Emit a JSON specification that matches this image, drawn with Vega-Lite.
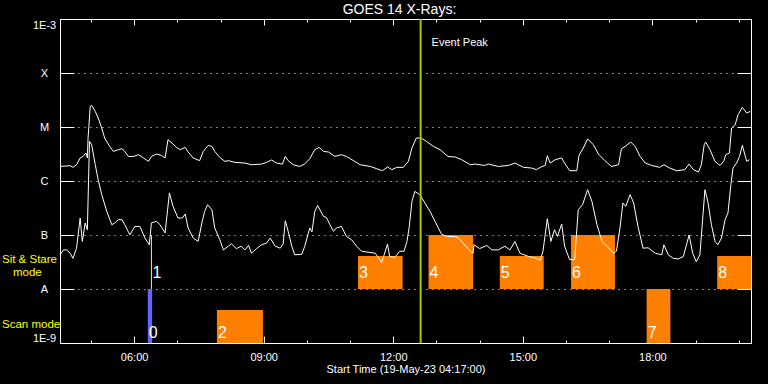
{
  "$schema": "https://vega.github.io/schema/vega-lite/v6.json",
  "width": 691,
  "height": 324,
  "autosize": "none",
  "padding": {"left": 60, "top": 19, "right": 17, "bottom": 41},
  "background": "black",
  "config": {"view": {"stroke": "white", "strokeWidth": 1}, "font": "Liberation Sans"},
  "datasets": {
    "modes": [
      {"id": "0", "mode": "scan", "start": "2023-05-19T06:19", "end": "2023-05-19T06:25", "lo": 1e-9, "hi": 1e-8},
      {"id": "1", "mode": "sit", "start": "2023-05-19T06:24", "end": "2023-05-19T06:24", "lo": 1e-8, "hi": 1e-7},
      {"id": "2", "mode": "scan", "start": "2023-05-19T07:55", "end": "2023-05-19T08:59", "lo": 1e-9, "hi": 4.1e-9},
      {"id": "3", "mode": "sit", "start": "2023-05-19T11:11", "end": "2023-05-19T12:13", "lo": 1e-8, "hi": 4.1e-8},
      {"id": "4", "mode": "sit", "start": "2023-05-19T12:49", "end": "2023-05-19T13:51", "lo": 1e-8, "hi": 1e-7},
      {"id": "5", "mode": "sit", "start": "2023-05-19T14:28", "end": "2023-05-19T15:29", "lo": 1e-8, "hi": 4.1e-8},
      {"id": "6", "mode": "sit", "start": "2023-05-19T16:07", "end": "2023-05-19T17:08", "lo": 1e-8, "hi": 1e-7},
      {"id": "7", "mode": "scan", "start": "2023-05-19T17:52", "end": "2023-05-19T18:25", "lo": 1e-9, "hi": 1e-8},
      {"id": "8", "mode": "sit", "start": "2023-05-19T19:30", "end": "2023-05-19T20:17", "lo": 1e-8, "hi": 4.1e-8}
    ],
    "peak": [{"time": "2023-05-19T12:38", "label": "Event Peak"}],
    "xrs": [
      {"time": "2023-05-19T04:17", "band": "long", "flux": 1.86e-6},
      {"time": "2023-05-19T04:31", "band": "long", "flux": 1.92e-6},
      {"time": "2023-05-19T04:35", "band": "long", "flux": 1.79e-6},
      {"time": "2023-05-19T04:40", "band": "long", "flux": 2.0e-6},
      {"time": "2023-05-19T04:45", "band": "long", "flux": 2.67e-6},
      {"time": "2023-05-19T04:49", "band": "long", "flux": 2.85e-6},
      {"time": "2023-05-19T04:53", "band": "long", "flux": 3.3e-6},
      {"time": "2023-05-19T04:55", "band": "long", "flux": 2.67e-6},
      {"time": "2023-05-19T04:56", "band": "long", "flux": 6.25e-6},
      {"time": "2023-05-19T04:59", "band": "long", "flux": 2.41e-5},
      {"time": "2023-05-19T05:01", "band": "long", "flux": 2.51e-5},
      {"time": "2023-05-19T05:06", "band": "long", "flux": 1.94e-5},
      {"time": "2023-05-19T05:10", "band": "long", "flux": 1.47e-5},
      {"time": "2023-05-19T05:15", "band": "long", "flux": 9.6e-6},
      {"time": "2023-05-19T05:19", "band": "long", "flux": 6.25e-6},
      {"time": "2023-05-19T05:26", "band": "long", "flux": 4.37e-6},
      {"time": "2023-05-19T05:31", "band": "long", "flux": 3.53e-6},
      {"time": "2023-05-19T05:38", "band": "long", "flux": 3.8e-6},
      {"time": "2023-05-19T05:43", "band": "long", "flux": 3.96e-6},
      {"time": "2023-05-19T05:47", "band": "long", "flux": 3.53e-6},
      {"time": "2023-05-19T05:52", "band": "long", "flux": 2.85e-6},
      {"time": "2023-05-19T05:59", "band": "long", "flux": 2.85e-6},
      {"time": "2023-05-19T06:06", "band": "long", "flux": 3.07e-6},
      {"time": "2023-05-19T06:13", "band": "long", "flux": 2.67e-6},
      {"time": "2023-05-19T06:20", "band": "long", "flux": 2.31e-6},
      {"time": "2023-05-19T06:24", "band": "long", "flux": 2.85e-6},
      {"time": "2023-05-19T06:31", "band": "long", "flux": 3.16e-6},
      {"time": "2023-05-19T06:38", "band": "long", "flux": 2.98e-6},
      {"time": "2023-05-19T06:43", "band": "long", "flux": 2.67e-6},
      {"time": "2023-05-19T06:47", "band": "long", "flux": 5.82e-6},
      {"time": "2023-05-19T06:54", "band": "long", "flux": 4.84e-6},
      {"time": "2023-05-19T06:59", "band": "long", "flux": 4.19e-6},
      {"time": "2023-05-19T07:04", "band": "long", "flux": 3.8e-6},
      {"time": "2023-05-19T07:11", "band": "long", "flux": 4.19e-6},
      {"time": "2023-05-19T07:15", "band": "long", "flux": 3.44e-6},
      {"time": "2023-05-19T07:22", "band": "long", "flux": 2.67e-6},
      {"time": "2023-05-19T07:31", "band": "long", "flux": 2.38e-6},
      {"time": "2023-05-19T07:36", "band": "long", "flux": 3.53e-6},
      {"time": "2023-05-19T07:43", "band": "long", "flux": 4.56e-6},
      {"time": "2023-05-19T07:48", "band": "long", "flux": 4.37e-6},
      {"time": "2023-05-19T07:52", "band": "long", "flux": 3.53e-6},
      {"time": "2023-05-19T07:59", "band": "long", "flux": 2.74e-6},
      {"time": "2023-05-19T08:06", "band": "long", "flux": 2.31e-6},
      {"time": "2023-05-19T08:11", "band": "long", "flux": 2.38e-6},
      {"time": "2023-05-19T08:20", "band": "long", "flux": 2.21e-6},
      {"time": "2023-05-19T08:34", "band": "long", "flux": 2.15e-6},
      {"time": "2023-05-19T08:43", "band": "long", "flux": 2.0e-6},
      {"time": "2023-05-19T08:57", "band": "long", "flux": 2.06e-6},
      {"time": "2023-05-19T09:04", "band": "long", "flux": 2.21e-6},
      {"time": "2023-05-19T09:11", "band": "long", "flux": 2.45e-6},
      {"time": "2023-05-19T09:18", "band": "long", "flux": 2.15e-6},
      {"time": "2023-05-19T09:26", "band": "long", "flux": 2.06e-6},
      {"time": "2023-05-19T09:30", "band": "long", "flux": 2.85e-6},
      {"time": "2023-05-19T09:34", "band": "long", "flux": 2.38e-6},
      {"time": "2023-05-19T09:41", "band": "long", "flux": 2.0e-6},
      {"time": "2023-05-19T09:50", "band": "long", "flux": 1.86e-6},
      {"time": "2023-05-19T09:57", "band": "long", "flux": 2.06e-6},
      {"time": "2023-05-19T10:04", "band": "long", "flux": 2.59e-6},
      {"time": "2023-05-19T10:11", "band": "long", "flux": 3.8e-6},
      {"time": "2023-05-19T10:17", "band": "long", "flux": 4.19e-6},
      {"time": "2023-05-19T10:23", "band": "long", "flux": 3.53e-6},
      {"time": "2023-05-19T10:30", "band": "long", "flux": 3.44e-6},
      {"time": "2023-05-19T10:39", "band": "long", "flux": 2.85e-6},
      {"time": "2023-05-19T10:48", "band": "long", "flux": 3.07e-6},
      {"time": "2023-05-19T10:55", "band": "long", "flux": 2.85e-6},
      {"time": "2023-05-19T11:04", "band": "long", "flux": 2.41e-6},
      {"time": "2023-05-19T11:14", "band": "long", "flux": 2.0e-6},
      {"time": "2023-05-19T11:28", "band": "long", "flux": 1.86e-6},
      {"time": "2023-05-19T11:37", "band": "long", "flux": 1.69e-6},
      {"time": "2023-05-19T11:45", "band": "long", "flux": 1.55e-6},
      {"time": "2023-05-19T11:52", "band": "long", "flux": 1.82e-6},
      {"time": "2023-05-19T11:58", "band": "long", "flux": 1.62e-6},
      {"time": "2023-05-19T12:05", "band": "long", "flux": 1.79e-6},
      {"time": "2023-05-19T12:14", "band": "long", "flux": 1.79e-6},
      {"time": "2023-05-19T12:21", "band": "long", "flux": 2.31e-6},
      {"time": "2023-05-19T12:26", "band": "long", "flux": 4.08e-6},
      {"time": "2023-05-19T12:32", "band": "long", "flux": 6.25e-6},
      {"time": "2023-05-19T12:39", "band": "long", "flux": 6.25e-6},
      {"time": "2023-05-19T12:46", "band": "long", "flux": 5.41e-6},
      {"time": "2023-05-19T12:56", "band": "long", "flux": 4.37e-6},
      {"time": "2023-05-19T13:05", "band": "long", "flux": 3.8e-6},
      {"time": "2023-05-19T13:16", "band": "long", "flux": 2.85e-6},
      {"time": "2023-05-19T13:26", "band": "long", "flux": 2.78e-6},
      {"time": "2023-05-19T13:35", "band": "long", "flux": 2.48e-6},
      {"time": "2023-05-19T13:47", "band": "long", "flux": 2.0e-6},
      {"time": "2023-05-19T13:54", "band": "long", "flux": 2.06e-6},
      {"time": "2023-05-19T14:07", "band": "long", "flux": 1.94e-6},
      {"time": "2023-05-19T14:12", "band": "long", "flux": 2.06e-6},
      {"time": "2023-05-19T14:26", "band": "long", "flux": 1.86e-6},
      {"time": "2023-05-19T14:40", "band": "long", "flux": 1.94e-6},
      {"time": "2023-05-19T14:49", "band": "long", "flux": 2.15e-6},
      {"time": "2023-05-19T15:01", "band": "long", "flux": 1.79e-6},
      {"time": "2023-05-19T15:12", "band": "long", "flux": 1.74e-6},
      {"time": "2023-05-19T15:19", "band": "long", "flux": 1.62e-6},
      {"time": "2023-05-19T15:24", "band": "long", "flux": 1.79e-6},
      {"time": "2023-05-19T15:31", "band": "long", "flux": 1.94e-6},
      {"time": "2023-05-19T15:34", "band": "long", "flux": 2.94e-6},
      {"time": "2023-05-19T15:38", "band": "long", "flux": 2.15e-6},
      {"time": "2023-05-19T15:45", "band": "long", "flux": 2.48e-6},
      {"time": "2023-05-19T15:54", "band": "long", "flux": 2.67e-6},
      {"time": "2023-05-19T15:58", "band": "long", "flux": 2.15e-6},
      {"time": "2023-05-19T16:05", "band": "long", "flux": 1.55e-6},
      {"time": "2023-05-19T16:15", "band": "long", "flux": 1.55e-6},
      {"time": "2023-05-19T16:18", "band": "long", "flux": 2.98e-6},
      {"time": "2023-05-19T16:24", "band": "long", "flux": 4.08e-6},
      {"time": "2023-05-19T16:30", "band": "long", "flux": 6.0e-6},
      {"time": "2023-05-19T16:38", "band": "long", "flux": 4.7e-6},
      {"time": "2023-05-19T16:45", "band": "long", "flux": 3.16e-6},
      {"time": "2023-05-19T16:54", "band": "long", "flux": 2.38e-6},
      {"time": "2023-05-19T17:03", "band": "long", "flux": 1.86e-6},
      {"time": "2023-05-19T17:13", "band": "long", "flux": 2.0e-6},
      {"time": "2023-05-19T17:17", "band": "long", "flux": 3.96e-6},
      {"time": "2023-05-19T17:22", "band": "long", "flux": 4.37e-6},
      {"time": "2023-05-19T17:30", "band": "long", "flux": 5.27e-6},
      {"time": "2023-05-19T17:36", "band": "long", "flux": 4.37e-6},
      {"time": "2023-05-19T17:43", "band": "long", "flux": 2.85e-6},
      {"time": "2023-05-19T17:50", "band": "long", "flux": 2.15e-6},
      {"time": "2023-05-19T17:59", "band": "long", "flux": 1.94e-6},
      {"time": "2023-05-19T18:10", "band": "long", "flux": 1.79e-6},
      {"time": "2023-05-19T18:16", "band": "long", "flux": 2.0e-6},
      {"time": "2023-05-19T18:24", "band": "long", "flux": 1.74e-6},
      {"time": "2023-05-19T18:34", "band": "long", "flux": 1.55e-6},
      {"time": "2023-05-19T18:45", "band": "long", "flux": 1.62e-6},
      {"time": "2023-05-19T18:51", "band": "long", "flux": 2.06e-6},
      {"time": "2023-05-19T18:57", "band": "long", "flux": 1.62e-6},
      {"time": "2023-05-19T19:04", "band": "long", "flux": 1.47e-6},
      {"time": "2023-05-19T19:08", "band": "long", "flux": 2.0e-6},
      {"time": "2023-05-19T19:12", "band": "long", "flux": 4.7e-6},
      {"time": "2023-05-19T19:14", "band": "long", "flux": 5.27e-6},
      {"time": "2023-05-19T19:20", "band": "long", "flux": 3.8e-6},
      {"time": "2023-05-19T19:27", "band": "long", "flux": 2.31e-6},
      {"time": "2023-05-19T19:34", "band": "long", "flux": 1.94e-6},
      {"time": "2023-05-19T19:39", "band": "long", "flux": 2.31e-6},
      {"time": "2023-05-19T19:42", "band": "long", "flux": 3.07e-6},
      {"time": "2023-05-19T19:47", "band": "long", "flux": 3.3e-6},
      {"time": "2023-05-19T19:50", "band": "long", "flux": 9.6e-6},
      {"time": "2023-05-19T19:55", "band": "long", "flux": 1.1e-5},
      {"time": "2023-05-19T19:59", "band": "long", "flux": 1.69e-5},
      {"time": "2023-05-19T20:05", "band": "long", "flux": 2.31e-5},
      {"time": "2023-05-19T20:11", "band": "long", "flux": 1.82e-5},
      {"time": "2023-05-19T20:16", "band": "long", "flux": 1.94e-5},
      {"time": "2023-05-19T04:17", "band": "short", "flux": 4.3e-8},
      {"time": "2023-05-19T04:22", "band": "short", "flux": 5.3e-8},
      {"time": "2023-05-19T04:26", "band": "short", "flux": 5.3e-8},
      {"time": "2023-05-19T04:31", "band": "short", "flux": 4.6e-8},
      {"time": "2023-05-19T04:35", "band": "short", "flux": 3.7e-8},
      {"time": "2023-05-19T04:40", "band": "short", "flux": 5.7e-8},
      {"time": "2023-05-19T04:45", "band": "short", "flux": 2.06e-7},
      {"time": "2023-05-19T04:48", "band": "short", "flux": 7.6e-8},
      {"time": "2023-05-19T04:52", "band": "short", "flux": 1.67e-7},
      {"time": "2023-05-19T04:55", "band": "short", "flux": 1.25e-7},
      {"time": "2023-05-19T04:58", "band": "short", "flux": 5.41e-6},
      {"time": "2023-05-19T05:01", "band": "short", "flux": 4.7e-6},
      {"time": "2023-05-19T05:06", "band": "short", "flux": 2.0e-6},
      {"time": "2023-05-19T05:10", "band": "short", "flux": 1.06e-6},
      {"time": "2023-05-19T05:15", "band": "short", "flux": 5.58e-7},
      {"time": "2023-05-19T05:22", "band": "short", "flux": 2.74e-7},
      {"time": "2023-05-19T05:29", "band": "short", "flux": 1.55e-7},
      {"time": "2023-05-19T05:33", "band": "short", "flux": 1.67e-7},
      {"time": "2023-05-19T05:38", "band": "short", "flux": 1.92e-7},
      {"time": "2023-05-19T05:43", "band": "short", "flux": 1.92e-7},
      {"time": "2023-05-19T05:47", "band": "short", "flux": 1.55e-7},
      {"time": "2023-05-19T05:54", "band": "short", "flux": 1.01e-7},
      {"time": "2023-05-19T06:01", "band": "short", "flux": 1.44e-7},
      {"time": "2023-05-19T06:08", "band": "short", "flux": 1.44e-7},
      {"time": "2023-05-19T06:15", "band": "short", "flux": 8.8e-8},
      {"time": "2023-05-19T06:21", "band": "short", "flux": 6.6e-8},
      {"time": "2023-05-19T06:24", "band": "short", "flux": 1.67e-7},
      {"time": "2023-05-19T06:31", "band": "short", "flux": 1.79e-7},
      {"time": "2023-05-19T06:36", "band": "short", "flux": 1.55e-7},
      {"time": "2023-05-19T06:43", "band": "short", "flux": 1.09e-7},
      {"time": "2023-05-19T06:49", "band": "short", "flux": 6.0e-7},
      {"time": "2023-05-19T06:54", "band": "short", "flux": 3.39e-7},
      {"time": "2023-05-19T07:01", "band": "short", "flux": 2.06e-7},
      {"time": "2023-05-19T07:07", "band": "short", "flux": 2.06e-7},
      {"time": "2023-05-19T07:11", "band": "short", "flux": 2.45e-7},
      {"time": "2023-05-19T07:15", "band": "short", "flux": 1.35e-7},
      {"time": "2023-05-19T07:22", "band": "short", "flux": 8.8e-8},
      {"time": "2023-05-19T07:29", "band": "short", "flux": 7.6e-8},
      {"time": "2023-05-19T07:34", "band": "short", "flux": 1.67e-7},
      {"time": "2023-05-19T07:38", "band": "short", "flux": 2.74e-7},
      {"time": "2023-05-19T07:42", "band": "short", "flux": 3.64e-7},
      {"time": "2023-05-19T07:48", "band": "short", "flux": 2.94e-7},
      {"time": "2023-05-19T07:52", "band": "short", "flux": 1.35e-7},
      {"time": "2023-05-19T07:59", "band": "short", "flux": 8.2e-8},
      {"time": "2023-05-19T08:04", "band": "short", "flux": 5.3e-8},
      {"time": "2023-05-19T08:11", "band": "short", "flux": 6.2e-8},
      {"time": "2023-05-19T08:15", "band": "short", "flux": 6.9e-8},
      {"time": "2023-05-19T08:22", "band": "short", "flux": 5.6e-8},
      {"time": "2023-05-19T08:29", "band": "short", "flux": 6.2e-8},
      {"time": "2023-05-19T08:34", "band": "short", "flux": 5.3e-8},
      {"time": "2023-05-19T08:39", "band": "short", "flux": 6.4e-8},
      {"time": "2023-05-19T08:43", "band": "short", "flux": 4.6e-8},
      {"time": "2023-05-19T08:50", "band": "short", "flux": 5.6e-8},
      {"time": "2023-05-19T08:57", "band": "short", "flux": 6.6e-8},
      {"time": "2023-05-19T09:04", "band": "short", "flux": 7.1e-8},
      {"time": "2023-05-19T09:09", "band": "short", "flux": 8.8e-8},
      {"time": "2023-05-19T09:16", "band": "short", "flux": 6.2e-8},
      {"time": "2023-05-19T09:23", "band": "short", "flux": 5.7e-8},
      {"time": "2023-05-19T09:27", "band": "short", "flux": 6.8e-8},
      {"time": "2023-05-19T09:30", "band": "short", "flux": 1.84e-7},
      {"time": "2023-05-19T09:34", "band": "short", "flux": 1.17e-7},
      {"time": "2023-05-19T09:39", "band": "short", "flux": 6.2e-8},
      {"time": "2023-05-19T09:43", "band": "short", "flux": 4.3e-8},
      {"time": "2023-05-19T09:53", "band": "short", "flux": 4.4e-8},
      {"time": "2023-05-19T09:57", "band": "short", "flux": 6.2e-8},
      {"time": "2023-05-19T10:04", "band": "short", "flux": 1.35e-7},
      {"time": "2023-05-19T10:07", "band": "short", "flux": 1.14e-7},
      {"time": "2023-05-19T10:11", "band": "short", "flux": 2.74e-7},
      {"time": "2023-05-19T10:15", "band": "short", "flux": 3.53e-7},
      {"time": "2023-05-19T10:23", "band": "short", "flux": 2.21e-7},
      {"time": "2023-05-19T10:27", "band": "short", "flux": 2.12e-7},
      {"time": "2023-05-19T10:32", "band": "short", "flux": 1.55e-7},
      {"time": "2023-05-19T10:37", "band": "short", "flux": 1.17e-7},
      {"time": "2023-05-19T10:41", "band": "short", "flux": 1.35e-7},
      {"time": "2023-05-19T10:48", "band": "short", "flux": 1.44e-7},
      {"time": "2023-05-19T10:55", "band": "short", "flux": 9.4e-8},
      {"time": "2023-05-19T11:02", "band": "short", "flux": 8.2e-8},
      {"time": "2023-05-19T11:09", "band": "short", "flux": 6.2e-8},
      {"time": "2023-05-19T11:16", "band": "short", "flux": 5.0e-8},
      {"time": "2023-05-19T11:25", "band": "short", "flux": 4.8e-8},
      {"time": "2023-05-19T11:35", "band": "short", "flux": 4.6e-8},
      {"time": "2023-05-19T11:44", "band": "short", "flux": 3.1e-8},
      {"time": "2023-05-19T11:52", "band": "short", "flux": 6.8e-8},
      {"time": "2023-05-19T11:55", "band": "short", "flux": 4.0e-8},
      {"time": "2023-05-19T12:02", "band": "short", "flux": 3.85e-8},
      {"time": "2023-05-19T12:09", "band": "short", "flux": 5.0e-8},
      {"time": "2023-05-19T12:15", "band": "short", "flux": 5.0e-8},
      {"time": "2023-05-19T12:19", "band": "short", "flux": 7.6e-8},
      {"time": "2023-05-19T12:22", "band": "short", "flux": 1.35e-7},
      {"time": "2023-05-19T12:26", "band": "short", "flux": 4.19e-7},
      {"time": "2023-05-19T12:30", "band": "short", "flux": 6.42e-7},
      {"time": "2023-05-19T12:37", "band": "short", "flux": 5.58e-7},
      {"time": "2023-05-19T12:44", "band": "short", "flux": 3.91e-7},
      {"time": "2023-05-19T12:51", "band": "short", "flux": 2.74e-7},
      {"time": "2023-05-19T12:58", "band": "short", "flux": 1.79e-7},
      {"time": "2023-05-19T13:07", "band": "short", "flux": 1.04e-7},
      {"time": "2023-05-19T13:14", "band": "short", "flux": 9.4e-8},
      {"time": "2023-05-19T13:23", "band": "short", "flux": 9.4e-8},
      {"time": "2023-05-19T13:30", "band": "short", "flux": 9.0e-8},
      {"time": "2023-05-19T13:37", "band": "short", "flux": 7.1e-8},
      {"time": "2023-05-19T13:47", "band": "short", "flux": 5.0e-8},
      {"time": "2023-05-19T13:51", "band": "short", "flux": 4.6e-8},
      {"time": "2023-05-19T13:52", "band": "short", "flux": 6.6e-8},
      {"time": "2023-05-19T14:00", "band": "short", "flux": 5.6e-8},
      {"time": "2023-05-19T14:10", "band": "short", "flux": 6.4e-8},
      {"time": "2023-05-19T14:17", "band": "short", "flux": 5.3e-8},
      {"time": "2023-05-19T14:26", "band": "short", "flux": 5.3e-8},
      {"time": "2023-05-19T14:35", "band": "short", "flux": 6.2e-8},
      {"time": "2023-05-19T14:42", "band": "short", "flux": 5.3e-8},
      {"time": "2023-05-19T14:49", "band": "short", "flux": 7.6e-8},
      {"time": "2023-05-19T14:56", "band": "short", "flux": 4.6e-8},
      {"time": "2023-05-19T15:08", "band": "short", "flux": 4.0e-8},
      {"time": "2023-05-19T15:19", "band": "short", "flux": 3.7e-8},
      {"time": "2023-05-19T15:24", "band": "short", "flux": 3.4e-8},
      {"time": "2023-05-19T15:28", "band": "short", "flux": 5.0e-8},
      {"time": "2023-05-19T15:34", "band": "short", "flux": 2.0e-7},
      {"time": "2023-05-19T15:39", "band": "short", "flux": 7.6e-8},
      {"time": "2023-05-19T15:44", "band": "short", "flux": 1.25e-7},
      {"time": "2023-05-19T15:48", "band": "short", "flux": 9.4e-8},
      {"time": "2023-05-19T15:54", "band": "short", "flux": 1.6e-7},
      {"time": "2023-05-19T15:58", "band": "short", "flux": 6.2e-8},
      {"time": "2023-05-19T16:05", "band": "short", "flux": 3.5e-8},
      {"time": "2023-05-19T16:12", "band": "short", "flux": 3.5e-8},
      {"time": "2023-05-19T16:17", "band": "short", "flux": 2.94e-7},
      {"time": "2023-05-19T16:23", "band": "short", "flux": 3.64e-7},
      {"time": "2023-05-19T16:30", "band": "short", "flux": 6.9e-7},
      {"time": "2023-05-19T16:36", "band": "short", "flux": 4.19e-7},
      {"time": "2023-05-19T16:43", "band": "short", "flux": 1.55e-7},
      {"time": "2023-05-19T16:50", "band": "short", "flux": 7.6e-8},
      {"time": "2023-05-19T16:57", "band": "short", "flux": 6.2e-8},
      {"time": "2023-05-19T17:06", "band": "short", "flux": 4.6e-8},
      {"time": "2023-05-19T17:10", "band": "short", "flux": 5.0e-8},
      {"time": "2023-05-19T17:15", "band": "short", "flux": 1.35e-7},
      {"time": "2023-05-19T17:19", "band": "short", "flux": 3.91e-7},
      {"time": "2023-05-19T17:23", "band": "short", "flux": 3.39e-7},
      {"time": "2023-05-19T17:29", "band": "short", "flux": 5.58e-7},
      {"time": "2023-05-19T17:34", "band": "short", "flux": 3.91e-7},
      {"time": "2023-05-19T17:40", "band": "short", "flux": 1.44e-7},
      {"time": "2023-05-19T17:47", "band": "short", "flux": 5.7e-8},
      {"time": "2023-05-19T17:54", "band": "short", "flux": 5.8e-8},
      {"time": "2023-05-19T18:04", "band": "short", "flux": 4.6e-8},
      {"time": "2023-05-19T18:13", "band": "short", "flux": 4.3e-8},
      {"time": "2023-05-19T18:16", "band": "short", "flux": 6.6e-8},
      {"time": "2023-05-19T18:22", "band": "short", "flux": 4.3e-8},
      {"time": "2023-05-19T18:29", "band": "short", "flux": 3.7e-8},
      {"time": "2023-05-19T18:36", "band": "short", "flux": 3.6e-8},
      {"time": "2023-05-19T18:43", "band": "short", "flux": 4.0e-8},
      {"time": "2023-05-19T18:51", "band": "short", "flux": 1.0e-7},
      {"time": "2023-05-19T18:56", "band": "short", "flux": 4.6e-8},
      {"time": "2023-05-19T19:01", "band": "short", "flux": 3.2e-8},
      {"time": "2023-05-19T19:06", "band": "short", "flux": 4.3e-8},
      {"time": "2023-05-19T19:13", "band": "short", "flux": 6.9e-7},
      {"time": "2023-05-19T19:17", "band": "short", "flux": 4.19e-7},
      {"time": "2023-05-19T19:22", "band": "short", "flux": 1.55e-7},
      {"time": "2023-05-19T19:27", "band": "short", "flux": 7.6e-8},
      {"time": "2023-05-19T19:31", "band": "short", "flux": 6.6e-8},
      {"time": "2023-05-19T19:36", "band": "short", "flux": 8.8e-8},
      {"time": "2023-05-19T19:41", "band": "short", "flux": 1.92e-7},
      {"time": "2023-05-19T19:45", "band": "short", "flux": 2.55e-7},
      {"time": "2023-05-19T19:49", "band": "short", "flux": 8.5e-7},
      {"time": "2023-05-19T19:52", "band": "short", "flux": 1.74e-6},
      {"time": "2023-05-19T19:57", "band": "short", "flux": 2.15e-6},
      {"time": "2023-05-19T20:01", "band": "short", "flux": 2.85e-6},
      {"time": "2023-05-19T20:05", "band": "short", "flux": 4.56e-6},
      {"time": "2023-05-19T20:11", "band": "short", "flux": 2.31e-6},
      {"time": "2023-05-19T20:15", "band": "short", "flux": 2.48e-6}
    ]
  },
  "layer": [
    {
      "data": {"name": "modes"},
      "transform": [{"filter": "datum.id != '1'"}],
      "mark": {"type": "rect"},
      "encoding": {
        "x": {"field": "start", "type": "temporal",
          "scale": {"domain": [{"year": 2023, "month": 5, "date": 19, "hours": 4, "minutes": 17}, {"year": 2023, "month": 5, "date": 19, "hours": 20, "minutes": 17}], "nice": false},
          "axis": {"orient": "bottom", "title": "Start Time (19-May-23 04:17:00)", "titleColor": "white", "titleFont": "Liberation Sans", "titleFontSize": 11, "titleFontWeight": "normal", "titlePadding": 1,
            "values": [{"year": 2023, "month": 5, "date": 19, "hours": 6}, {"year": 2023, "month": 5, "date": 19, "hours": 9}, {"year": 2023, "month": 5, "date": 19, "hours": 12}, {"year": 2023, "month": 5, "date": 19, "hours": 15}, {"year": 2023, "month": 5, "date": 19, "hours": 18}],
            "format": "%H:%M",
            "labelColor": "white", "labelFont": "Liberation Sans", "labelFontSize": 11, "labelPadding": 15, "labelFlush": false, "labelOverlap": false,
            "tickColor": "white", "tickSize": -7,
            "domain": false, "grid": false}},
        "x2": {"field": "end"},
        "y": {"field": "lo", "type": "quantitative",
          "scale": {"type": "log", "domain": [1e-9, 1e-3], "nice": false},
          "axis": {"orient": "left", "title": null,
            "values": [1e-9, 1e-8, 1e-7, 1e-6, 1e-5, 1e-4, 1e-3],
            "labelExpr": "datum.value < 5e-9 ? '1E-9' : datum.value < 5e-8 ? 'A' : datum.value < 5e-7 ? 'B' : datum.value < 5e-6 ? 'C' : datum.value < 5e-5 ? 'M' : datum.value < 5e-4 ? 'X' : '1E-3'",
            "labelAlign": "center", "labelPadding": 30, "labelFlush": true, "labelOverlap": false,
            "labelColor": "white", "labelFont": "Liberation Sans", "labelFontSize": 11,
            "tickColor": "white", "tickSize": -14, "domain": false,
            "grid": true, "gridColor": "white", "gridDash": [1, 5]}},
        "y2": {"field": "hi"},
        "color": {"condition": {"test": "datum.id == '0'", "value": "#6464ff"}, "value": "#ff8000"}
      }
    },
    {
      "data": {"name": "modes"},
      "transform": [{"filter": "datum.id == '1'"}],
      "mark": {"type": "rule", "color": "#ffff00", "strokeWidth": 1},
      "encoding": {
        "x": {"field": "start", "type": "temporal",
          "axis": {"orient": "top", "title": null, "labels": false, "domain": false, "grid": false,
            "values": [{"year": 2023, "month": 5, "date": 19, "hours": 5}, {"year": 2023, "month": 5, "date": 19, "hours": 7}, {"year": 2023, "month": 5, "date": 19, "hours": 8}, {"year": 2023, "month": 5, "date": 19, "hours": 10}, {"year": 2023, "month": 5, "date": 19, "hours": 11}, {"year": 2023, "month": 5, "date": 19, "hours": 13}, {"year": 2023, "month": 5, "date": 19, "hours": 14}, {"year": 2023, "month": 5, "date": 19, "hours": 16}, {"year": 2023, "month": 5, "date": 19, "hours": 17}, {"year": 2023, "month": 5, "date": 19, "hours": 19}, {"year": 2023, "month": 5, "date": 19, "hours": 20}],
            "tickColor": "white", "tickSize": -3}},
        "y": {"field": "lo", "type": "quantitative", "axis": null},
        "y2": {"field": "hi"}
      }
    },
    {
      "data": {"name": "xrs"},
      "mark": {"type": "line", "color": "white", "strokeWidth": 1},
      "encoding": {
        "x": {"field": "time", "type": "temporal",
          "axis": {"orient": "top", "title": null, "labels": false, "domain": false, "grid": false,
            "values": [{"year": 2023, "month": 5, "date": 19, "hours": 6}, {"year": 2023, "month": 5, "date": 19, "hours": 9}, {"year": 2023, "month": 5, "date": 19, "hours": 12}, {"year": 2023, "month": 5, "date": 19, "hours": 15}, {"year": 2023, "month": 5, "date": 19, "hours": 18}],
            "tickColor": "white", "tickSize": -6}},
        "y": {"field": "flux", "type": "quantitative",
          "axis": {"orient": "right", "title": null, "labels": false, "domain": false, "grid": false,
            "values": [1e-9, 1e-8, 1e-7, 1e-6, 1e-5, 1e-4, 1e-3], "tickColor": "white", "tickSize": -14}},
        "detail": {"field": "band", "type": "nominal"}
      }
    },
    {
      "data": {"name": "peak"},
      "mark": {"type": "rule", "color": "#9bcc00", "strokeWidth": 2},
      "encoding": {
        "x": {"field": "time", "type": "temporal",
          "axis": {"orient": "bottom", "title": null, "labels": false, "domain": false, "grid": false,
            "values": [{"year": 2023, "month": 5, "date": 19, "hours": 5}, {"year": 2023, "month": 5, "date": 19, "hours": 7}, {"year": 2023, "month": 5, "date": 19, "hours": 8}, {"year": 2023, "month": 5, "date": 19, "hours": 10}, {"year": 2023, "month": 5, "date": 19, "hours": 11}, {"year": 2023, "month": 5, "date": 19, "hours": 13}, {"year": 2023, "month": 5, "date": 19, "hours": 14}, {"year": 2023, "month": 5, "date": 19, "hours": 16}, {"year": 2023, "month": 5, "date": 19, "hours": 17}, {"year": 2023, "month": 5, "date": 19, "hours": 19}, {"year": 2023, "month": 5, "date": 19, "hours": 20}],
            "tickColor": "white", "tickSize": -3}}
      }
    },
    {
      "data": {"name": "peak"},
      "mark": {"type": "text", "color": "white", "align": "left", "baseline": "alphabetic", "dx": 11, "font": "Liberation Sans", "fontSize": 11},
      "encoding": {
        "x": {"field": "time", "type": "temporal", "axis": null},
        "y": {"datum": 3.1e-4, "type": "quantitative", "axis": null},
        "text": {"field": "label"}
      }
    },
    {
      "data": {"name": "modes"},
      "transform": [{"filter": "datum.mode == 'sit'"}],
      "mark": {"type": "text", "color": "white", "align": "left", "baseline": "alphabetic", "dx": 1, "dy": -11, "font": "Liberation Sans", "fontSize": 16},
      "encoding": {
        "x": {"field": "start", "type": "temporal", "axis": null},
        "y": {"field": "lo", "type": "quantitative", "axis": null},
        "text": {"field": "id"}
      }
    },
    {
      "data": {"name": "modes"},
      "transform": [{"filter": "datum.mode == 'scan'"}],
      "mark": {"type": "text", "color": "white", "align": "left", "baseline": "alphabetic", "dx": 1, "dy": -5, "font": "Liberation Sans", "fontSize": 16},
      "encoding": {
        "x": {"field": "start", "type": "temporal", "axis": null},
        "y": {"field": "lo", "type": "quantitative", "axis": null},
        "text": {"field": "id"}
      }
    },
    {
      "data": {"values": [{"note": "GOES 14 X-Rays:", "at": "2023-05-19T12:17", "level": 1.25e-3}]},
      "mark": {"type": "text", "color": "white", "align": "center", "baseline": "alphabetic", "dx": -6, "font": "Liberation Sans", "fontSize": 14},
      "encoding": {
        "x": {"field": "at", "type": "temporal", "axis": null},
        "y": {"field": "level", "type": "quantitative", "axis": null},
        "text": {"field": "note"}
      }
    },
    {
      "data": {"values": [{"note": "Sit & Stare", "at": "2023-05-19T04:17", "level": 3.03e-8}, {"note": "Scan mode", "at": "2023-05-19T04:17", "level": 1.9e-9}]},
      "mark": {"type": "text", "color": "#ffff00", "align": "left", "baseline": "alphabetic", "dx": -58, "font": "Liberation Sans", "fontSize": 11.5},
      "encoding": {
        "x": {"field": "at", "type": "temporal", "axis": null},
        "y": {"field": "level", "type": "quantitative", "axis": null},
        "text": {"field": "note"}
      }
    },
    {
      "data": {"values": [{"note": "mode", "at": "2023-05-19T04:17", "level": 1.73e-8}]},
      "mark": {"type": "text", "color": "#ffff00", "align": "left", "baseline": "alphabetic", "dx": -47, "font": "Liberation Sans", "fontSize": 11.5},
      "encoding": {
        "x": {"field": "at", "type": "temporal", "axis": null},
        "y": {"field": "level", "type": "quantitative", "axis": null},
        "text": {"field": "note"}
      }
    }
  ],
  "resolve": {"axis": {"x": "independent", "y": "independent"}}
}
